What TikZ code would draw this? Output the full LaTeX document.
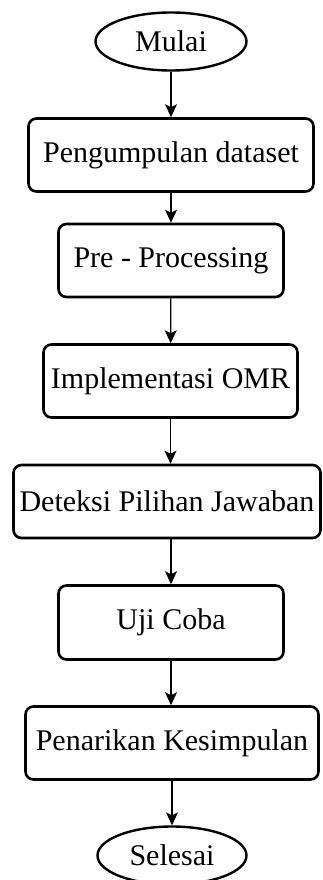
\documentclass[tikz,border=0pt]{standalone}
\usepackage{fontspec}
\setmainfont{Liberation Serif}
\usetikzlibrary{shapes.geometric,arrows.meta}
\begin{document}
\begin{tikzpicture}
    [x=1pt,y=1pt,
    font=\fontsize{30}{36}\selectfont,
    stepbox/.style = {draw, rounded corners=8pt,
                    line width=2.6pt, inner sep=0pt,
                    minimum height=73pt},
    terminal/.style = {ellipse, draw, line width=2.4pt,
                    inner sep=0pt, minimum height=58pt},
    flow/.style = {line width=1.3pt, -{Stealth[length=13pt,width=12pt,inset=3pt]}}]
    \useasboundingbox (0,0) rectangle (323,-880);
    \node[terminal,minimum width=151pt] (mulai) at (171,-41.5) {Mulai};
    \node[stepbox,minimum width=285pt] (dataset) at (171,-155) {Pengumpulan dataset};
    \node[stepbox,minimum width=225pt] (prepro) at (171,-260.5) {Pre - Processing};
    \node[stepbox,minimum width=254pt] (omr) at (170.5,-381) {Implementasi OMR};
    \node[stepbox,minimum width=307pt] (deteksi) at (167,-501.5) {Deteksi Pilihan Jawaban};
    \node[stepbox,minimum width=225pt,minimum height=74pt] (uji) at (171,-622.5) {Uji Coba};
    \node[stepbox,minimum width=293pt] (simpul) at (172,-743) {Penarikan Kesimpulan};
    \node[terminal,minimum width=149pt] (selesai) at (172,-855.5) {Selesai};
    \draw[flow] (mulai) -- (dataset);
    \draw[flow] (dataset) -- (prepro);
    \draw[flow] (prepro) -- (omr);
    \draw[flow] (omr.south) -- (omr.south |- deteksi.north);
    \draw[flow] (deteksi.south -| uji) -- (uji);
    \draw[flow] (uji.south) -- (uji.south |- simpul.north);
    \draw[flow] (simpul.south -| selesai) -- (selesai);
\end{tikzpicture}
\end{document}
